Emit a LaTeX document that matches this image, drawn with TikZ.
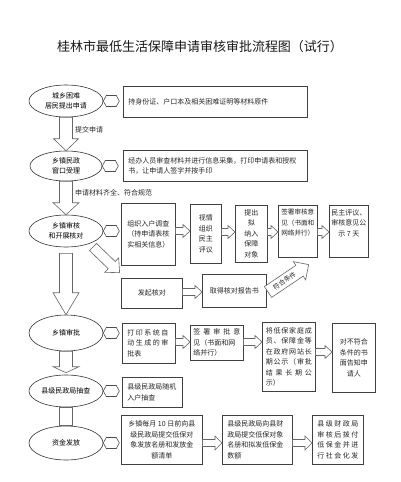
\documentclass[tikz,border=0pt]{standalone}
\usepackage{fontspec}
\setmainfont{Noto Sans CJK SC}
\usetikzlibrary{shapes.geometric,calc}
\newcommand\jf{\hfil}
\newcommand\js[2]{\makebox[#1][s]{#2}}
\tikzset{
  box/.style={draw=black!75, line width=0.6pt, fill=white, inner sep=0pt, anchor=north west,
    font=\fontsize{7}{10.5}\selectfont, text=black!85},
  lbox/.style={box, align=left, inner xsep=5pt},
  cbox/.style={box, align=center},
  ell/.style={ellipse, draw=black!80, line width=0.6pt, fill=white, inner sep=0pt,
    font=\fontsize{7}{10}\selectfont, align=center, text=black},
  blk/.style={draw=black!60, line width=0.6pt, fill=white, line join=miter},
  conn/.style={draw=black!70, line width=0.6pt, fill=white},
  lbl/.style={font=\fontsize{7}{9}\selectfont, text=black!85, inner sep=0pt, anchor=west},
  txt/.style={font=\fontsize{6.6}{10.5}\selectfont, text=black!85, inner sep=0pt, align=center, anchor=north},
}
\newcommand\hexc[1]{\draw[conn] let \p1=(#1.east) in (\x1,\y1) -- ++(3pt,5.5pt) -- ++(10pt,0pt) -- ++(3pt,-5.5pt) -- ++(-3pt,-5.5pt) -- ++(-10pt,0pt) -- cycle;}
\newcommand\darr[4]{\draw[blk] let \p1=#1, \p2=#2 in (\x1-6.5pt,\y1) -- (\x1-6.5pt,\y2+#3) -- (\x1-#4,\y2+#3) -- (\x1,\y2) -- (\x1+#4,\y2+#3) -- (\x1+6.5pt,\y2+#3) -- (\x1+6.5pt,\y1) -- cycle;}
\newcommand\rarr[5]{\draw[blk] let \p1=(#1.east), \p2=(#2.west), \p3=(0,#3) in (\x1,\y3+#4) -- (\x2-7pt,\y3+#4) -- (\x2-7pt,\y3+#5) -- (\x2,\y3) -- (\x2-7pt,\y3-#5) -- (\x2-7pt,\y3-#4) -- (\x1,\y3-#4) -- cycle;}
\begin{document}
\begin{tikzpicture}[x=1pt,y=-1pt]
\fill[white] (0,0) rectangle (400,482);
\useasboundingbox (0,0) rectangle (400,482);

\node[font=\fontsize{13}{15}\selectfont, text=black!90] (title) at (200,47) {桂林市最低生活保障申请审核审批流程图（试行）};

% ellipses
\node[ell, minimum width=74pt, minimum height=32pt] (e1) at (66,101) {城乡困难\\居民提出申请};
\node[ell, minimum width=72pt, minimum height=30pt] (e2) at (66,166) {乡镇民政\\窗口受理};
\node[ell, minimum width=74pt, minimum height=32pt] (e3) at (66,231) {乡镇审核\\和开展核对};
\node[ell, minimum width=74pt, minimum height=36pt] (e4) at (66,333) {乡镇审批};
\node[ell, minimum width=74pt, minimum height=32pt] (e5) at (66,391) {县级民政局抽查};
\node[ell, minimum width=74pt, minimum height=34pt] (e6) at (66,443) {资金发放};

% boxes
\node[lbox, minimum width=184pt, minimum height=31pt, text width=174pt] (b1) at (123,86) {持身份证、户口本及相关困难证明等材料原件};
\node[lbox, minimum width=184pt, minimum height=31pt, text width=174pt] (b2) at (123,150) {经办人员审查材料并进行信息采集，打印申请表和授权\\书，让申请人签字并按手印};

\node[cbox, minimum width=54pt, minimum height=62pt] (A) at (121,203) {组织入户调查\\（持申请表核\\实相关信息）};
\node[cbox, minimum width=31pt, minimum height=59pt] (B) at (190,204) {视情\\组织\\民主\\评议};
\node[cbox, minimum width=32pt, minimum height=57pt] (C) at (235,205) {提出\\拟\\纳入\\保障\\对象};
\node[cbox, minimum width=39pt, minimum height=52pt] (D) at (278,205) {};
\node[txt] (Dt) at ($(D.north)+(0,4)$) {签署审核意\\见（书面和\\网络并行）};
\node[cbox, minimum width=39pt, minimum height=52pt] (E) at (329,205) {};
\node[txt, font=\fontsize{7}{10.5}\selectfont] (Et) at ($(E.north)+(0,4)$) {民主评议、\\审核意见公\\示 7 天};

\node[cbox, minimum width=61pt, minimum height=30pt] (F) at (121,278) {发起核对};
\node[cbox, minimum width=64pt, minimum height=33pt] (G) at (202,274) {取得核对报告书};

\node[lbox, minimum width=53pt, minimum height=40pt, text width=43pt] (H) at (122,323) {\js{41pt}{打\jf 印\jf 系\jf 统\jf 自}\\\js{41pt}{动\jf 生\jf 成\jf 的\jf 审}\\批表};
\node[lbox, minimum width=53pt, minimum height=35pt, inner xsep=3pt, text width=47pt] (I) at (190,325) {\js{47pt}{签\jf 署\jf 审\jf 批\jf 意}\\见（书面和网\\络并行）};
\node[lbox, minimum width=53pt, minimum height=69pt, inner xsep=3.5pt, text width=46pt] (J) at (262,322) {\js{46pt}{将\jf 低\jf 保\jf 家\jf 庭\jf 成}\\\js{46pt}{员\jf 、\jf 保\jf 障\jf 金\jf 等}\\\js{46pt}{在\jf 政\jf 府\jf 网\jf 站\jf 长}\\\js{46pt}{期\jf 公\jf 示\jf （\jf 审\jf 批}\\\js{46pt}{结\jf 果\jf 长\jf 期\jf 公}\\示）};
\node[cbox, minimum width=43pt, minimum height=69pt] (K) at (332,323) {对不符合\\条件的书\\面告知申\\请人};

\node[lbox, minimum width=60pt, minimum height=30pt, text width=50pt] (L) at (122,377) {县级民政局随机\\入户抽查};

\node[cbox, minimum width=81pt, minimum height=49pt] (M) at (121,415) {乡镇每月 10 日前向县\\级民政局提交低保对\\象发放名册和发放金\\额清单};
\node[lbox, minimum width=70pt, minimum height=49pt, text width=60pt] (N) at (222,415) {县级民政局向县财\\政局提交低保对象\\名册和拟发低保金\\数额};
\node[lbox, minimum width=51pt, minimum height=49pt, text width=41pt] (O) at (312,415) {\js{41pt}{县\jf 级\jf 财\jf 政\jf 局}\\\js{41pt}{审\jf 核\jf 后\jf 拨\jf 付}\\\js{41pt}{低\jf 保\jf 金\jf 并\jf 进}\\\js{41pt}{行\jf 社\jf 会\jf 化\jf 发}};

% hexagon connectors
\hexc{e1}
\hexc{e2}
\hexc{e3}
\hexc{e4}
\hexc{e5}
\hexc{e6}

% vertical block arrows
\darr{(e1.south)}{(e2.north)}{12pt}{12.5pt}
\darr{(e2.south)}{(e3.north)}{12pt}{13pt}
\darr{($(e3.south)+(0,6)$)}{(e4.north)}{22pt}{13pt}
\darr{(e4.south)}{($(e5.north)+(0,-2)$)}{6pt}{13pt}
\draw[blk] let \p1=(e5.south), \p2=(e6.north) in (\x1-6.5pt,\y1) rectangle (\x1+6.5pt,\y2);

\node[lbl] (l1) at (75,130) {提交申请};
\node[lbl] (l2) at (75,193) {申请材料齐全、符合规范};

% horizontal block arrows
\rarr{A}{B}{231}{3.5pt}{6.5pt}
\rarr{B}{C}{232}{3.5pt}{6.5pt}
\rarr{C}{D}{232}{3.5pt}{6.5pt}
\rarr{D}{E}{232}{3.5pt}{6.5pt}
\rarr{F}{G}{292}{3.5pt}{6.5pt}
\rarr{H}{I}{342}{3.5pt}{6.5pt}
\rarr{I}{J}{342}{3.5pt}{6.5pt}
\rarr{J}{K}{352}{3.5pt}{6.5pt}
\rarr{M}{N}{443}{3.5pt}{7pt}
\rarr{N}{O}{443}{3.5pt}{7pt}

% diagonal arrow to verification
\coordinate (d1) at (93,247);
\begin{scope}[shift={(d1)}, rotate=-44]
\draw[blk] (0,-5) -- (26,-5) -- (26,-10) -- (37,0) -- (26,10) -- (26,5) -- (0,5) -- cycle;
\end{scope}

% arrow "符合条件"
\coordinate (d2) at (268,292);
\begin{scope}[shift={(d2)}, rotate=34]
\draw[blk] (0,-6.5) -- (38,-6.5) -- (38,-11) -- (49,0) -- (38,11) -- (38,6.5) -- (0,6.5) -- cycle;
\node[font=\fontsize{6.5}{7}\selectfont, rotate=34, inner sep=0pt, text=black!85] (fh) at (20,0) {符合条件};
\end{scope}
\end{tikzpicture}
\end{document}
